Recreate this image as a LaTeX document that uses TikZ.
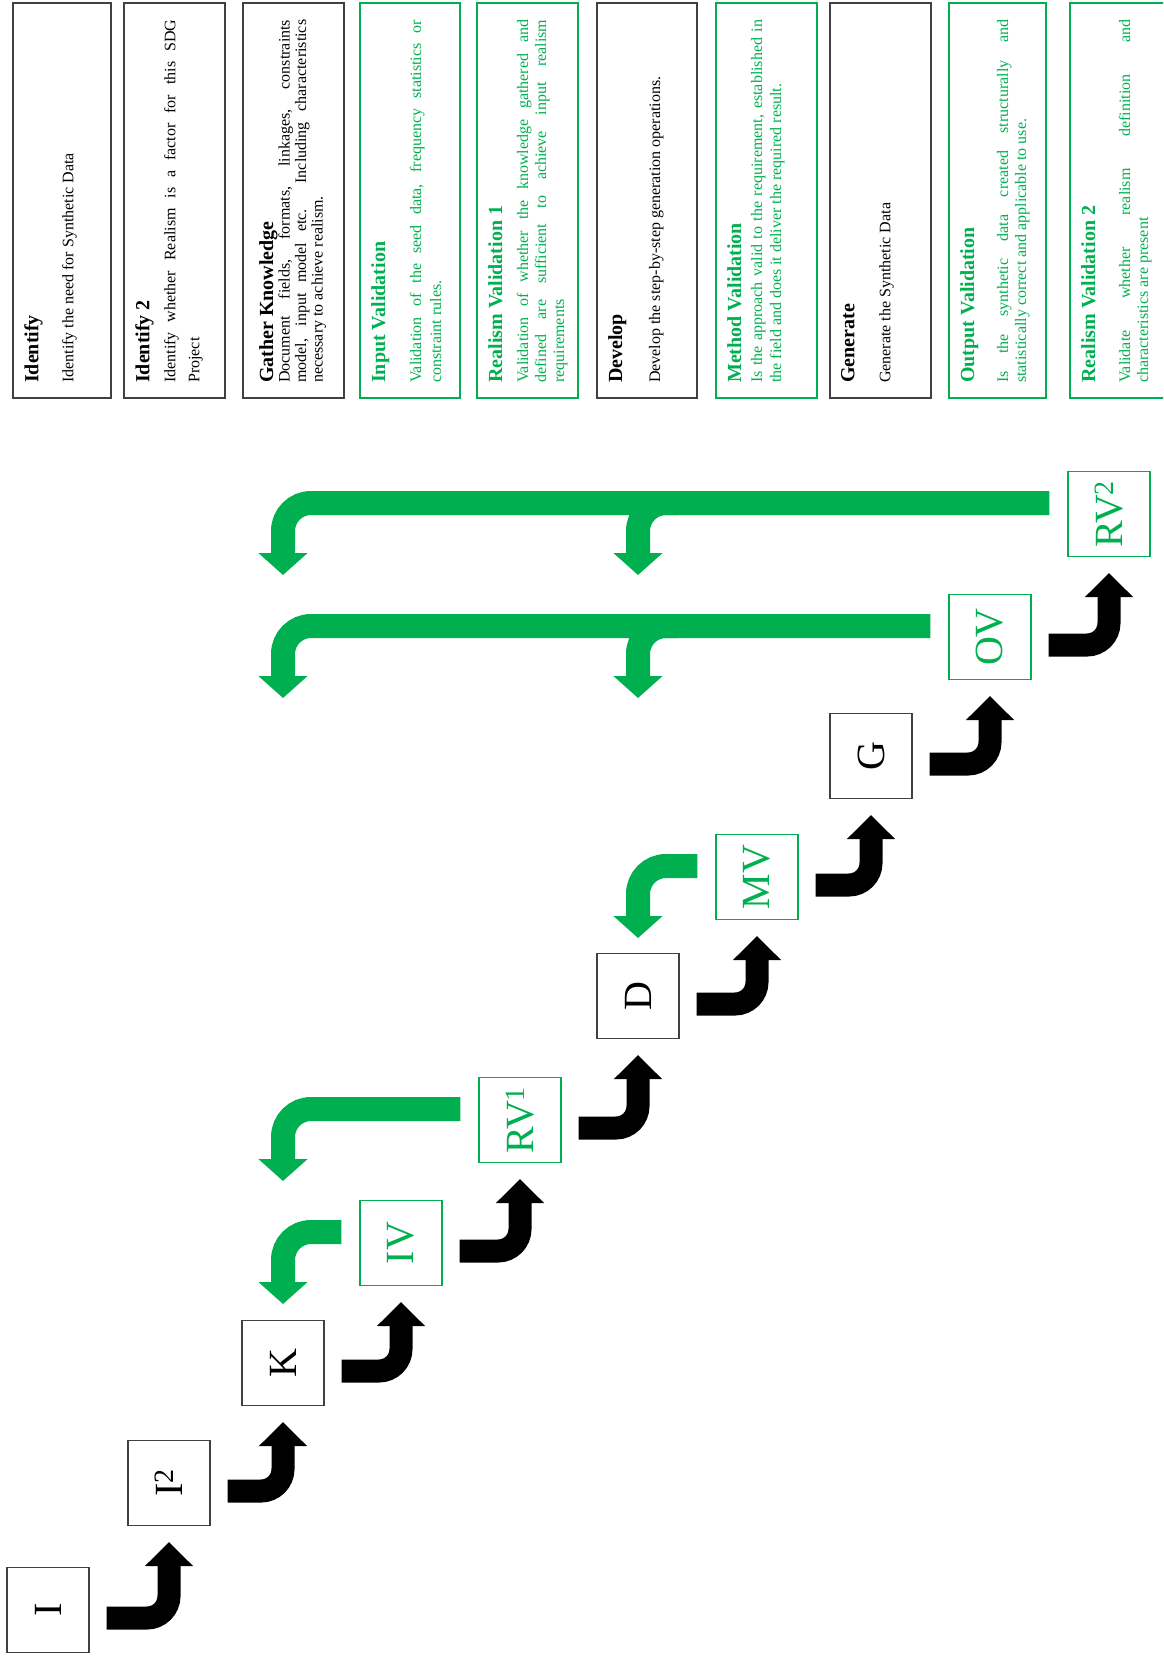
\documentclass[tikz,border=0pt]{standalone}
\usepackage{graphicx}
\usepackage{fontspec}
\setmainfont{Liberation Serif}
\usetikzlibrary{calc}
\usetikzlibrary{arrows.meta}

\definecolor{valgreen}{RGB}{0,176,80}
\definecolor{boxgrey}{RGB}{64,64,64}
\tolerance=10000
\hyphenpenalty=10000

\newcommand{\notehead}[1]{{\fontsize{20}{22}\selectfont\bfseries #1\par}}

\tikzset{
	phase/.style={draw=boxgrey, line width=1.3pt, minimum width=82pt, minimum height=85pt, inner sep=0pt, font=\fontsize{40}{40}\selectfont},
	valphase/.style={phase, draw=valgreen, text=valgreen},
	notetext/.style={rotate=90, anchor=north west, inner sep=0pt, text width=363pt, align=justify, font=\fontsize{16}{18}\selectfont},
	stepfwd/.style={line width=23pt, rounded corners=22pt, -{Triangle[width=47pt,length=24pt]}},
	stepback/.style={line width=24pt, rounded corners=28pt, draw=valgreen, -{Triangle[width=48pt,length=22pt]}}
}

\begin{document}
\begin{tikzpicture}[x=1pt,y=-1pt]
	\useasboundingbox (0,0) rectangle (1163,1659);
	\clip (0,0) rectangle (1163,1659);

	% description boxes
	\foreach \nm/\xl/\xr/\clr in {nI/13/111/boxgrey, nItwo/124/225/boxgrey, nK/243/344/boxgrey, nIV/360/460/valgreen, nRVone/477/578/valgreen, nD/597/697/boxgrey, nMV/716/817/valgreen, nG/830/931/boxgrey, nOV/949/1046/valgreen, nRVtwo/1070/1172/valgreen}{
		\draw[draw=\clr, line width=1.3pt] (\xl,3) rectangle (\xr,398);
		\coordinate (\nm) at (\xl,398);
	}

	\node[notetext] (tI) at ($(nI)+(11,-15)$) {\notehead{Identify}\vspace{17pt}Identify the need for Synthetic Data\par};
	\node[notetext] (tItwo) at ($(nItwo)+(11,-15)$) {\notehead{Identify 2}\vspace{2pt}\fontsize{16}{24}\selectfont Identify whether Realism is a factor for this SDG\linebreak Project\par};
	\node[notetext] (tK) at ($(nK)+(16,-15)$) {\notehead{Gather Knowledge}\fontsize{16}{16.5}\selectfont Document fields, formats, linkages, constraints\linebreak model, input model etc. Including characteristics\linebreak necessary to achieve realism.\par};
	\node[notetext, text=valgreen] (tIV) at ($(nIV)+(11,-15)$) {\notehead{Input Validation}\vspace{16pt}\fontsize{16}{20}\selectfont Validation of the seed data, frequency statistics or\linebreak constraint rules.\par};
	\node[notetext, text=valgreen] (tRVone) at ($(nRVone)+(11,-15)$) {\notehead{Realism Validation 1}\vspace{8pt}Validation of whether the knowledge gathered and\linebreak defined are sufficient to achieve input realism\linebreak requirements\par};
	\node[notetext] (tD) at ($(nD)+(11,-15)$) {\notehead{Develop}\vspace{20pt}Develop the step-by-step generation operations.\par};
	\node[notetext, text=valgreen] (tMV) at ($(nMV)+(11,-15)$) {\notehead{Method Validation}\vspace{2pt}\fontsize{16}{19}\selectfont Is the approach valid to the requirement, established in\linebreak the field and does it deliver the required result.\par};
	\node[notetext] (tG) at ($(nG)+(11,-15)$) {\notehead{Generate}\vspace{18pt}Generate the Synthetic Data\par};
	\node[notetext, text=valgreen] (tOV) at ($(nOV)+(11,-15)$) {\notehead{Output Validation}\vspace{16pt}Is the synthetic data created structurally and\linebreak statistically correct and applicable to use.\par};
	\node[notetext, text=valgreen] (tRVtwo) at ($(nRVtwo)+(11,-15)$) {\notehead{Realism Validation 2}\vspace{17pt}Validate whether realism definition and\linebreak characteristics are present\par};

	% phases
	\node[phase] (I) at (48,1610) {\rotatebox{90}{I}};
	\node[phase] (I2) at (169,1483) {\rotatebox{90}{I\textsuperscript{2}}};
	\node[phase] (K) at (283,1363) {\rotatebox{90}{K}};
	\node[valphase] (IV) at (401,1243) {\rotatebox{90}{IV}};
	\node[valphase] (RV1) at (520,1120) {\rotatebox{90}{RV\textsuperscript{1}}};
	\node[phase] (D) at (638,996) {\rotatebox{90}{D}};
	\node[valphase] (MV) at (757,877) {\rotatebox{90}{MV}};
	\node[phase] (G) at (871,756) {\rotatebox{90}{G}};
	\node[valphase] (OV) at (990,637) {\rotatebox{90}{OV}};
	\node[valphase] (RV2) at (1109,514) {\rotatebox{90}{RV\textsuperscript{2}}};

	% forward steps
	\foreach \a/\b in {I/I2, I2/K, K/IV, IV/RV1, RV1/D, D/MV, MV/G, G/OV, OV/RV2}{
		\draw[stepfwd] ($(\a.east)+(17,8)$) -| ($(\b.south)+(0,16)$);
	}

	% feedback loops
	\foreach \a/\b in {IV/K, RV1/K, MV/D, OV/K, RV2/K}{
		\draw[stepback] ($(\a.west)+(-18,-11)$) -| ($(\b.north |- \a.west)+(0,61)$);
	}
	\foreach \a in {OV, RV2}{
		\draw[stepback] ($(D.north |- \a.west)+(40,-11)$) -| ($(D.north |- \a.west)+(0,61)$);
	}
\end{tikzpicture}
\end{document}
